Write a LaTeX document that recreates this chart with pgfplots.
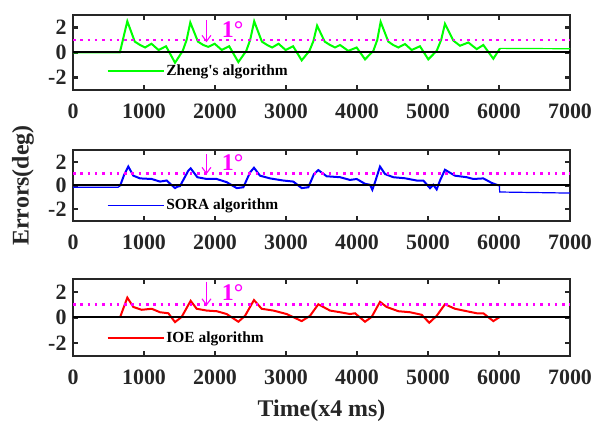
\documentclass[border=0pt]{standalone}
\usepackage{pgfplots}
\pgfplotsset{compat=1.18}
\usetikzlibrary{arrows.meta}
\usepackage{fontspec}
\setmainfont{Liberation Serif}

\definecolor{zgreen}{RGB}{0,255,0}
\definecolor{sblue}{RGB}{0,0,255}
\definecolor{ired}{RGB}{255,0,0}
\definecolor{mag}{RGB}{255,0,255}
\definecolor{frame}{RGB}{38,38,38}

\tikzset{
  mark1/.style={anchor=base west, text=mag, inner sep=0pt,
    font=\fontsize{24}{24}\selectfont\bfseries},
  downarrow/.style={mag, line width=1.1bp, -{Straight Barb[length=6bp,width=9bp]}},
}

\pgfplotsset{
  errpanel/.style={
    scale only axis, width=497bp,
    xmin=0, xmax=7000, ymin=-3, ymax=3,
    xtick={0,1000,...,7000}, ytick={-2,0,2},
    scaled x ticks=false,
    tick align=inside, major tick length=5bp,
    axis line style={line width=2.2bp, draw=frame},
    every tick/.style={line width=2.2bp, draw=frame},
    tick label style={font=\fontsize{22}{22}\selectfont\bfseries, text=frame},
    /pgf/number format/assume math mode=true,
    /pgf/number format/1000 sep={},
    xticklabel style={yshift=-10bp},
    yticklabel style={xshift=-3bp},
    clip=false,
    legend style={draw=none, fill=none, inner sep=0pt, outer sep=0pt,
      anchor=west, font=\fontsize{15.5}{15.5}\selectfont\bfseries,
      /tikz/every even column/.style={column sep=4bp}},
    legend image code/.code={\draw[#1, line width=1.6bp] (0bp,0bp) -- (56bp,0bp);},
  },
  refline/.style={mag, line width=2.5bp, dash pattern=on 2.5bp off 4.8bp, forget plot},
  zeroline/.style={black, line width=2bp, forget plot},
}

\begin{document}
\begin{tikzpicture}
\useasboundingbox (0,0) rectangle (596bp,422bp);

% Zheng's algorithm
\begin{axis}[errpanel, at={(73bp,332bp)}, anchor=south west, height=75bp,
  legend style={at={(rel axis cs:0.068,0.25)}}]
\addplot[zgreen, line width=2bp] coordinates {
 (0,0) (660,0) (765,2.5) (870,0.87) (945,0.6) (1015,0.4) (1105,0.7) (1205,0.2)
 (1310,0.5) (1437,-0.82) (1545,0.13) (1600,1.0) (1652,2.4) (1760,0.87) (1835,0.6)
 (1905,0.45) (1995,0.7) (2095,0.2) (2200,0.5) (2329,-0.77) (2440,0.13) (2495,1.0)
 (2552,2.5) (2660,0.87) (2735,0.6) (2805,0.4) (2895,0.7) (2995,0.2) (3100,0.5)
 (3221,-0.63) (3330,0.13) (3385,0.9) (3438,2.15) (3545,0.87) (3620,0.6) (3690,0.4)
 (3761,0.6) (3877,0.13) (3995,0.4) (4113,-0.55) (4230,0.13) (4285,1.0) (4333,2.45)
 (4441,0.87) (4510,0.6) (4582,0.4) (4676,0.68) (4770,0.2) (4887,0.5) (5004,-0.55)
 (5122,0.13) (5185,1.0) (5239,2.3) (5357,0.95) (5451,0.54) (5568,0.8) (5686,0.27)
 (5779,0.6) (5920,-0.5) (6014,0.33)};
\addlegendentry{Zheng\textquotesingle s algorithm}
\addplot[zgreen, line width=1.2bp, forget plot] coordinates {(6014,0.33) (7000,0.3)};
\addplot[refline] coordinates {(0,1) (7000,1)};
\addplot[zeroline] coordinates {(0,0) (7000,0)};
\draw[downarrow] (axis cs:1880,2.6) -- (axis cs:1880,0.82);
\node[mark1] at (axis cs:2094,1.22) {1°};
\end{axis}

% SORA algorithm
\begin{axis}[errpanel, at={(73bp,201bp)}, anchor=south west, height=71bp,
  ylabel={Errors(deg)},
  ylabel style={at={(rel axis cs:-0.1006,0.5)}, anchor=center,
    font=\fontsize{24}{24}\selectfont\bfseries, text=frame},
  legend style={at={(rel axis cs:0.068,0.22)}}]
\addplot[sblue, line width=1.2bp, forget plot] coordinates {(0,-0.15) (634,-0.15) (662,-0.05)};
\addplot[sblue, line width=2bp] coordinates {
 (662,-0.05) (720,0.9) (779,1.6) (850,0.83) (944,0.6)
 (1108,0.55) (1225,0.33) (1319,0.42) (1437,-0.22) (1470,-0.1) (1507,-0.05)
 (1624,1.25) (1657,1.45) (1751,0.7) (1883,0.55) (2024,0.55) (2165,0.28)
 (2306,-0.22) (2399,-0.15) (2493,1.1) (2549,1.5) (2634,0.83) (2775,0.6)
 (2962,0.42) (3103,0.33) (3221,-0.22) (3314,-0.15) (3394,0.97) (3455,1.3)
 (3573,0.78) (3761,0.7) (3901,0.47) (3996,0.55) (4113,0.14) (4183,0.06)
 (4216,-0.36) (4254,0.28) (4324,1.6) (4394,0.97) (4511,0.7) (4676,0.61)
 (4840,0.42) (4934,0.42) (5028,-0.22) (5075,0.06) (5122,-0.33) (5169,0.42)
 (5239,1.33) (5380,0.83) (5545,0.7) (5638,0.55) (5779,0.6) (5897,0.22)
 (5968,0.06) (6005,0.0)};
\addlegendentry{SORA algorithm}
\addplot[sblue, line width=1.2bp, forget plot] coordinates {(6005,0.0) (6010,-0.55) (7000,-0.64)};
\addplot[refline] coordinates {(0,1) (7000,1)};
\addplot[zeroline] coordinates {(0,0) (7000,0)};
\draw[downarrow] (axis cs:1880,2.65) -- (axis cs:1880,0.95);
\node[mark1] at (axis cs:2094,1.25) {1°};
\end{axis}

% IOE algorithm
\begin{axis}[errpanel, at={(73bp,66bp)}, anchor=south west, height=77bp,
  xlabel={Time(x4 ms)},
  xlabel style={at={(rel axis cs:0.5,0)}, anchor=center, yshift=-55bp,
    font=\fontsize{24}{24}\selectfont\bfseries, text=frame},
  legend style={at={(rel axis cs:0.068,0.23)}}]
\addplot[ired, line width=2bp] coordinates {
 (662,0) (765,1.55) (850,0.82) (967,0.6) (1108,0.68) (1225,0.41) (1343,0.33)
 (1437,-0.36) (1531,0.05) (1657,1.3) (1742,0.68) (1883,0.54) (2024,0.49)
 (2165,0.27) (2329,-0.33) (2423,0.13) (2549,1.36) (2657,0.68) (2822,0.54)
 (3009,0.27) (3221,-0.28) (3338,0.13) (3455,1.03) (3620,0.54) (3761,0.41)
 (3901,0.27) (3972,0.33) (4113,-0.33) (4207,0.05) (4324,1.22) (4418,0.82)
 (4582,0.49) (4747,0.41) (4911,0.21) (5018,-0.41) (5122,0.13) (5239,1.03)
 (5380,0.68) (5545,0.49) (5686,0.33) (5779,0.33) (5920,-0.28) (6014,0.05)};
\addlegendentry{IOE algorithm}
\addplot[refline] coordinates {(0,1) (7000,1)};
\addplot[zeroline] coordinates {(0,0) (7000,0)};
\draw[downarrow] (axis cs:1880,2.8) -- (axis cs:1880,0.92);
\node[mark1] at (axis cs:2094,1.35) {1°};
\end{axis}
\end{tikzpicture}
\end{document}
